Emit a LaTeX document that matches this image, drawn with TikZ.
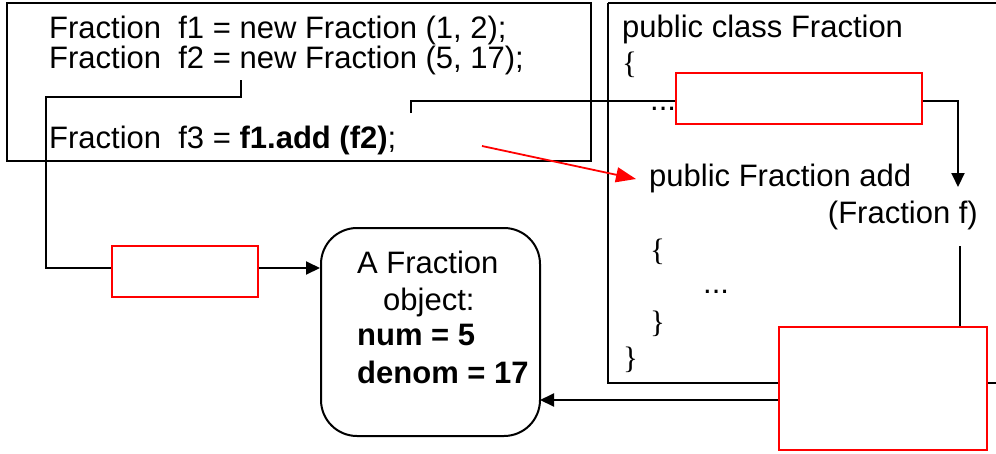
\documentclass[tikz,border=0pt]{standalone}
\usepackage{fontspec}
\setmainfont{Liberation Sans}
\newfontfamily\bracefont{Liberation Serif}
\usetikzlibrary{arrows.meta}
\tikzset{
  code/.style={inner sep=0pt, anchor=base west, font=\fontsize{31}{37}\selectfont},
  link/.style={draw=black, line width=2pt},
  tip/.style={-{Triangle[length=14pt,width=13pt]}},
  redbox/.style={draw=red, line width=2pt, fill=white, inner sep=0pt},
  frame/.style={draw=black, line width=2pt},
}
\begin{document}
\begin{tikzpicture}[x=1pt, y=-1pt]
\useasboundingbox (0,0) rectangle (996,453);
\clip (0,0) rectangle (996,453);

% caller code box
\draw[frame] (7,3) rectangle (591,161);
\node[code] (l1) at (49,38) {Fraction\ \ f1 = new Fraction (1, 2);};
\node[code] (l2) at (49,68) {Fraction\ \ f2 = new Fraction (5, 17);};
\node[code] (l3) at (49,148) {Fraction\ \ f3 = \textbf{f1.add (f2)};};

% class box (runs off the right edge)
\draw[frame] (608,3) -- (1020,3) (608,3) -- (608,383) -- (1020,383);
\node[code] (cls) at (622,37) {public class Fraction};
\node[code] (ob) at (622,73) {\bracefont\{};
\node[code] (dots1) at (650,110) {...};
\node[code] (meth) at (649,186) {public Fraction add};
\node[code, anchor=base east] (param) at (978,223) {(Fraction f)};
\node[code] (ob2) at (650,260) {\bracefont\{};
\node[code] (dots2) at (703,293) {...};
\node[code] (cb2) at (650,332) {\bracefont\}};
\node[code] (cb) at (623,368) {\bracefont\}};

% the object
\node[draw=black, line width=2pt, rounded corners=36pt, minimum width=219pt,
      minimum height=208pt, inner sep=0pt] (obj) at (430.5,332) {};
\node[code] (o1) at (357,273) {A Fraction};
\node[code] (o2) at (383,310) {object:};
\node[code] (o3) at (357,345) {\textbf{num = 5}};
\node[code] (o4) at (357,383) {\textbf{denom = 17}};

% empty red boxes
\node[redbox, minimum width=146pt, minimum height=51pt] (rA) at (185,271.5) {};
\node[redbox, minimum width=246pt, minimum height=51pt] (rB) at (799,98.5) {};
\node[redbox, minimum width=208pt, minimum height=123pt] (rC) at (883,388.5) {};

% connector coordinates
\coordinate (f2tap) at (241,80);
\coordinate (f2turn) at (241,97);
\coordinate (f2down) at (46,97);
\coordinate (f2low) at (46,268);
\coordinate (f3tap) at (411,113);
\coordinate (f3up) at (411,101);
\coordinate (bOut) at (922,101);
\coordinate (bTurn) at (958,101);
\coordinate (bTip) at (958,187);
\coordinate (pTop) at (960,246);
\coordinate (cOut) at (779,400);
\coordinate (objIn) at (540,400);
\coordinate (redFrom) at (482,146);
\coordinate (redTo) at (636,179);

% connectors
\draw[link] (f2tap) -- (f2turn) -- (f2down) -- (f2low) -- (rA.west |- f2low);
\draw[link, tip] (rA.east |- f2low) -- (obj.west |- f2low);
\draw[link] (f3tap) -- (f3up) -- (rB.west |- f3up);
\draw[link, tip] (bOut) -- (bTurn) -- (bTip);
\draw[link] (pTop) -- (pTop |- rC.north);
\draw[link, tip] (cOut) -- (objIn);
\draw[draw=red, line width=1.8pt, -{Triangle[length=20pt,width=15pt]}] (redFrom) -- (redTo);

% red boxes redrawn on top of the lines
\node[redbox, minimum width=146pt, minimum height=51pt] at (rA) {};
\node[redbox, minimum width=246pt, minimum height=51pt] at (rB) {};
\node[redbox, minimum width=208pt, minimum height=123pt] at (rC) {};
\end{tikzpicture}
\end{document}
